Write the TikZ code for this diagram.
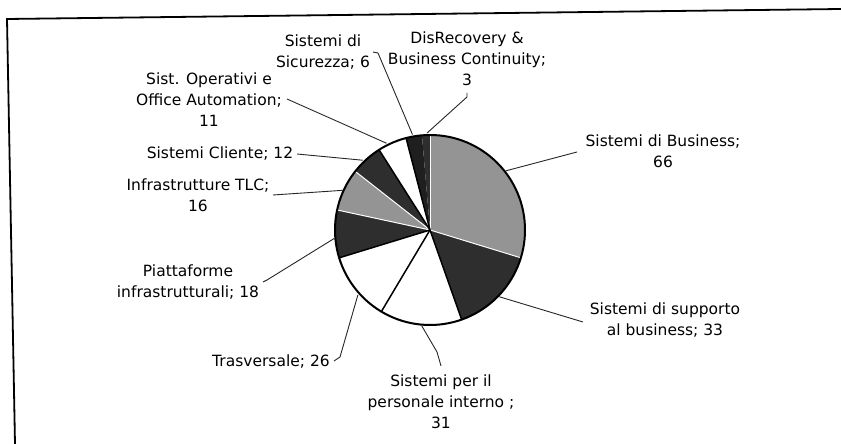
\documentclass[tikz,border=0pt]{standalone}
\usepackage{fontspec}
\setmainfont{DejaVu Sans}
\usetikzlibrary{calc}
\begin{document}
\begin{tikzpicture}[x=1pt,y=1pt,
  lbl/.style={font=\fontsize{15.5}{21}\selectfont, align=center, inner sep=0pt},
  leader/.style={draw=black!85, line width=0.9pt},
  lightfill/.style={fill=black!42},
  darkfill/.style={fill=black!82},
  blackfill/.style={fill=black!88},
  nofill/.style={fill=white},
  sepwhite/.style={draw=white, line width=1pt},
  sepblack/.style={draw=black, line width=1.5pt}]
\useasboundingbox (0,0) rectangle (841,444);

% frame (top and left edges)
\draw[line width=1.8pt] (841,435) -- (7,425) -- (15,0);

% pie
\coordinate (O) at (430,214);
\def\R{95}
\newcommand\pieslice[3]{\fill[#3] (O) -- ($(O)+(#1:\R)$) arc[start angle=#1, end angle=#2, radius=\R] -- cycle;}
\pieslice{-17.03}{90}{lightfill}      % Sistemi di Business 66
\pieslice{-70.54}{-17.03}{darkfill}   % Sistemi di supporto 33
\pieslice{-120.81}{-70.54}{nofill}    % Sistemi per il personale 31
\pieslice{-162.97}{-120.81}{nofill}   % Trasversale 26
\pieslice{167.84}{197.03}{darkfill}   % Piattaforme 18
\pieslice{141.89}{167.84}{lightfill}  % Infrastrutture TLC 16
\pieslice{122.43}{141.89}{darkfill}   % Sistemi Cliente 12
\pieslice{104.59}{122.43}{nofill}     % Sist. Operativi 11
\pieslice{94.86}{104.59}{blackfill}   % Sicurezza 6
\pieslice{90}{94.86}{darkfill}        % DisRecovery 3

\foreach \a in {-17.03,90,141.89,167.84}
  \draw[sepwhite] (O) -- ($(O)+(\a:\R)$);
\foreach \a in {-70.54,-120.81,-162.97,104.59,122.43}
  \draw[sepblack] (O) -- ($(O)+(\a:\R)$);
\draw[line width=2pt] (O) circle[radius=\R];

% labels
\node[lbl] (bus) at (663,292.5) {Sistemi di Business;\\66};
\node[lbl] (sup) at (665,124) {Sistemi di supporto\\al business; 33};
\node[lbl] (per) at (441,42) {Sistemi per il\\personale interno ;\\31};
\node[lbl] (tra) at (271,82) {Trasversale; 26};
\node[lbl] (pia) at (188,162) {Piattaforme\\infrastrutturali; 18};
\node[lbl] (tlc) at (198,248.5) {Infrastrutture TLC;\\16};
\node[lbl] (cli) at (220,290) {Sistemi Cliente; 12};
\node[lbl] (ope) at (209,344) {Sist. Operativi e\\Office Automation;\\11};
\node[lbl] (sic) at (323,391.5) {Sistemi di\\Sicurezza; 6};
\node[lbl] (dis) at (467,385) {DisRecovery \&\\Business Continuity;\\3};

% anchor points on the pie rim
\coordinate (rBus) at ($(O)+(38:96)$);
\coordinate (rSup) at ($(O)+(-44:96)$);
\coordinate (rPer) at ($(O)+(-95:96)$);
\coordinate (rTra) at ($(O)+(-138:97)$);
\coordinate (rPia) at ($(O)+(185:96)$);
\coordinate (rTlc) at ($(O)+(155.6:96)$);
\coordinate (rCli) at ($(O)+(134:97)$);
\coordinate (rOpe) at ($(O)+(116.6:97)$);
\coordinate (rSic) at ($(O)+(100.4:97)$);
\coordinate (rDis) at ($(O)+(91.75:97)$);

% leader ends beside the labels
\coordinate (eBus) at (577,292);
\coordinate (eSup) at (583,122);
\coordinate (kPer) at (437,92);
\coordinate (ePer) at (441,78);
\coordinate (kTra) at (340,87);
\coordinate (eTra) at (334,83);
\coordinate (kPia) at (267,164);
\coordinate (ePia) at (263,162);
\coordinate (eTlc) at (273,249);
\coordinate (eCli) at (297,290);
\coordinate (eOpe) at (287,345);
\coordinate (kSic) at (378,391);
\coordinate (eSic) at (373,392);
\coordinate (kDis) at (467,347);
\coordinate (eDis) at (467,351);

\draw[leader] (rBus) -- (eBus);
\draw[leader] (rSup) -- (eSup);
\draw[leader] (rPer) -- (kPer) -- (ePer);
\draw[leader] (rTra) -- (kTra) -- (eTra);
\draw[leader] (rPia) -- (kPia) -- (ePia);
\draw[leader] (rTlc) -- (eTlc);
\draw[leader] (rCli) -- (eCli);
\draw[leader] (rOpe) -- (eOpe);
\draw[leader] (rSic) -- (kSic) -- (eSic);
\draw[leader] (rDis) -- (kDis) -- (eDis);
\end{tikzpicture}
\end{document}
